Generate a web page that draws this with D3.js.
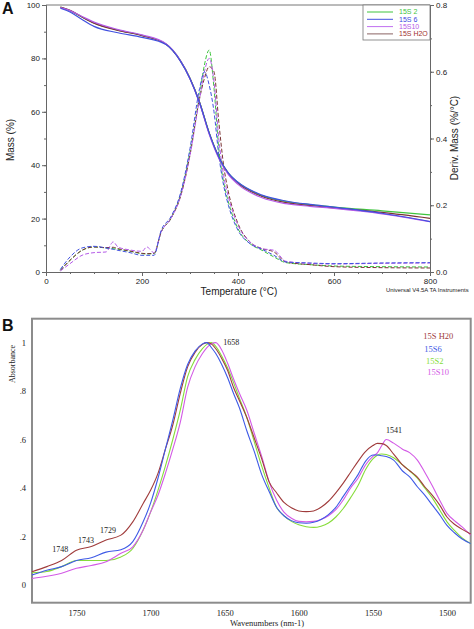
<!DOCTYPE html>
<html><head><meta charset="utf-8">
<script src="https://cdn.jsdelivr.net/npm/d3@7"></script>
<style>body{margin:0;background:#fff}svg{display:block}</style>
</head><body>
<script>
// ---------- Panel A data (TGA / DTG) ----------
const seriesA = ["15S 2", "15S 6", "15S10", "15S H2O"];
const tempTGA = [30,50,75,100,150,200,250,280,300,320,340,360,380,400,450,500,550,600,700,800];
const mass15S2  = [99.2,97.9,95.5,93.3,90.6,88.6,85.4,79.2,72.6,63.6,52.2,43.2,37.0,33.5,28.6,26.4,25.2,24.3,22.9,21.4];
const mass15S6  = [98.8,97.4,94.6,92.0,89.6,87.9,85.2,79.0,72.4,63.4,52.0,43.0,37.0,33.6,28.8,26.6,25.3,24.3,22.0,18.9];
const mass15S10 = [99.0,97.9,95.7,93.6,90.8,88.8,85.5,79.2,72.4,63.2,51.6,42.6,36.5,32.8,27.8,25.6,24.6,23.8,21.8,18.9];
const mass15SH2O= [99.2,98.0,95.5,93.2,90.5,88.5,85.3,79.1,72.5,63.5,52.0,43.0,36.8,33.2,28.3,26.0,24.9,24.0,22.3,20.1];

const tempDTG = [30,50,75,100,125,140,150,175,200,210,225,240,260,280,300,320,330,340,350,360,370,380,400,425,450,475,500,550,600,700,800];
const deriv15S2  = [0.005,0.035,0.065,0.075,0.072,0.070,0.068,0.062,0.055,0.054,0.055,0.12,0.16,0.23,0.36,0.53,0.62,0.665,0.55,0.37,0.27,0.21,0.13,0.085,0.065,0.045,0.028,0.022,0.018,0.016,0.015];
const deriv15S6  = [0.008,0.045,0.072,0.077,0.072,0.068,0.065,0.058,0.050,0.050,0.050,0.125,0.165,0.235,0.37,0.55,0.60,0.56,0.48,0.35,0.26,0.20,0.125,0.085,0.068,0.05,0.03,0.027,0.025,0.027,0.028];
const deriv15S10 = [0.003,0.025,0.05,0.058,0.060,0.090,0.075,0.066,0.062,0.075,0.058,0.12,0.16,0.225,0.35,0.52,0.60,0.64,0.57,0.40,0.29,0.225,0.14,0.09,0.07,0.065,0.032,0.026,0.024,0.026,0.027];
const deriv15SH2O= [0.005,0.035,0.065,0.075,0.073,0.074,0.070,0.063,0.056,0.055,0.056,0.12,0.16,0.225,0.35,0.52,0.58,0.615,0.60,0.45,0.32,0.24,0.145,0.09,0.07,0.06,0.03,0.022,0.016,0.013,0.012];

const massTicks = [0,20,40,60,80,100];
const tempTicks = [0,200,400,600,800];
const derivTicks = [0,0.2,0.4,0.6,0.8];

// ---------- Panel B data (FTIR) ----------
const seriesB = ["15S H20", "15S6", "15S2", "15S10"];
const wavenumbers = [1780,1770,1760,1750,1740,1730,1720,1712,1705,1700,1695,1690,1685,1680,1675,1670,1665,1662,1659,1656,1652,1648,1644,1640,1635,1630,1625,1620,1615,1610,1605,1600,1595,1590,1585,1580,1575,1570,1565,1560,1555,1550,1547,1544,1541,1536,1530,1525,1520,1515,1510,1505,1500,1495,1490,1484];
const absH20 = [.054,.075,.10,.143,.158,.185,.205,.26,.336,.39,.46,.56,.66,.79,.90,.96,.993,1.0,.995,.975,.935,.885,.815,.76,.69,.605,.52,.425,.38,.34,.318,.305,.302,.305,.32,.345,.38,.42,.465,.51,.55,.575,.584,.583,.575,.54,.495,.47,.445,.405,.37,.33,.28,.25,.23,.21];
const abs15S6 = [.04,.06,.075,.10,.112,.135,.145,.178,.26,.337,.44,.56,.68,.81,.91,.965,.995,1.0,.98,.955,.91,.855,.79,.73,.635,.55,.455,.385,.32,.285,.265,.256,.254,.258,.27,.29,.32,.365,.41,.455,.51,.536,.536,.533,.53,.515,.47,.445,.405,.37,.33,.29,.245,.215,.19,.17];
const abs15S2 = [.05,.055,.075,.10,.10,.10,.115,.15,.226,.30,.39,.49,.60,.72,.86,.93,.975,.993,1.0,.985,.945,.895,.835,.77,.69,.59,.49,.40,.32,.285,.262,.248,.24,.237,.242,.255,.28,.315,.36,.41,.475,.52,.535,.54,.538,.525,.495,.47,.44,.40,.36,.31,.26,.225,.195,.17];
const abs15S10 = [.026,.035,.048,.068,.08,.095,.13,.157,.226,.30,.37,.46,.56,.67,.815,.90,.955,.98,.995,1.0,.97,.915,.85,.79,.72,.625,.53,.425,.35,.30,.275,.262,.26,.262,.27,.285,.31,.35,.40,.44,.495,.53,.545,.575,.60,.585,.56,.545,.515,.465,.41,.35,.295,.265,.24,.205];
const absTicks = [0,0.2,0.4,0.6,0.8,1];
const wnTicks = [1750,1700,1650,1600,1550,1500];
const peakLabels = ["1658","1541","1748","1743","1729"];
const peakPositions = [[1645.5,1.0],[1535.7,0.639],[1761,0.146],[1743.6,0.185],[1728.7,0.226]];

// ---------- Drawing ----------
const W = 474, H = 629;
const svg = d3.select("body").append("svg").attr("width", W).attr("height", H);
const sans = "'Liberation Sans', Arial, sans-serif";
const serif = "'Liberation Serif', 'Times New Roman', serif";

const colA = {"15S 2":"#3ec43e","15S 6":"#4050e0","15S10":"#b45ae8","15S H2O":"#7a3434"};
const txtA = {"15S 2":"#3ec43e","15S 6":"#3c48e0","15S10":"#b45ae8","15S H2O":"#a03030"};
const legLineA = {"15S 2":"#3ec43e","15S 6":"#4050e0","15S10":"#c070f0","15S H2O":"#8a6464"};

const xA = d3.scaleLinear().domain([0,800]).range([46,430]);
const yA = d3.scaleLinear().domain([0,100]).range([272,5]);
const yA2 = d3.scaleLinear().domain([0,0.8]).range([272,5]);

const gA = svg.append("g");
gA.append("line").attr("x1",46).attr("x2",430).attr("y1",5).attr("y2",5).attr("stroke","#777").attr("stroke-width",1);

function styleAxis(g, fs, font){
  g.selectAll("path").attr("stroke","#666");
  g.selectAll("line").attr("stroke","#666");
  g.selectAll("text").attr("font-size",fs).attr("font-family",font).attr("fill","#222");
}
gA.append("g").attr("transform","translate(0,272)").call(d3.axisBottom(xA).tickValues(d3.range(0,801,50)).tickSize(2).tickFormat("")).call(g=>styleAxis(g,8,sans));
gA.append("g").attr("transform","translate(46,0)").call(d3.axisLeft(yA).tickValues(d3.range(0,101,10)).tickSize(2).tickFormat("")).call(g=>styleAxis(g,8,sans));
gA.append("g").attr("transform","translate(430,0)").call(d3.axisRight(yA2).tickValues(d3.range(0,0.81,0.1)).tickSize(2).tickFormat("")).call(g=>styleAxis(g,8,sans));
gA.append("g").attr("transform","translate(0,272)").call(d3.axisBottom(xA).tickValues(tempTicks).tickSize(4).tickPadding(2)).call(g=>styleAxis(g,8,sans));
gA.append("g").attr("transform","translate(46,0)").call(d3.axisLeft(yA).tickValues(massTicks).tickSize(4).tickPadding(2)).call(g=>styleAxis(g,8,sans));
gA.append("g").attr("transform","translate(430,0)").call(d3.axisRight(yA2).tickValues(derivTicks).tickSize(4).tickPadding(2).tickFormat(d3.format(".1f"))).call(g=>styleAxis(g,8,sans));

const massData = [mass15S2, mass15S6, mass15S10, mass15SH2O];
const derivData = [deriv15S2, deriv15S6, deriv15S10, deriv15SH2O];
const lineMass = d3.line().x((d,i)=>xA(tempTGA[i])).y(d=>yA(d)).curve(d3.curveMonotoneX);
const lineDeriv = d3.line().x((d,i)=>xA(tempDTG[i])).y(d=>yA2(d)).curve(d3.curveMonotoneX);
const drawOrder = [0,3,2,1];
drawOrder.forEach(k=>{
  gA.append("path").attr("d", lineDeriv(derivData[k])).attr("fill","none")
    .attr("stroke", colA[seriesA[k]]).attr("stroke-width",1).attr("stroke-dasharray","4,2");
});
drawOrder.forEach(k=>{
  gA.append("path").attr("d", lineMass(massData[k])).attr("fill","none")
    .attr("stroke", colA[seriesA[k]]).attr("stroke-width",1.2);
});

const legA = gA.append("g");
legA.append("rect").attr("x",363).attr("y",5).attr("width",67).attr("height",35).attr("fill","#fff").attr("stroke","#777").attr("stroke-width",0.8);
seriesA.forEach((s,i)=>{
  const yy = 12 + i*7.3;
  legA.append("line").attr("x1",367).attr("x2",393).attr("y1",yy).attr("y2",yy).attr("stroke",legLineA[s]).attr("stroke-width",1);
  legA.append("text").attr("x",399).attr("y",yy).attr("dy","0.35em").attr("font-size",7).attr("font-family",sans).attr("fill",txtA[s]).text(s);
});

gA.append("text").attr("transform","translate(14,140) rotate(-90)").attr("text-anchor","middle").attr("font-size",10).attr("font-family",sans).attr("fill","#222").text("Mass (%)");
gA.append("text").attr("transform","translate(458,138) rotate(-90)").attr("text-anchor","middle").attr("font-size",10).attr("font-family",sans).attr("fill","#222").text("Deriv. Mass (%/°C)");
gA.append("text").attr("x",239).attr("y",295).attr("text-anchor","middle").attr("font-size",10).attr("font-family",sans).attr("fill","#222").text("Temperature (°C)");
gA.append("text").attr("x",386).attr("y",292).attr("font-size",5.9).attr("font-family",sans).attr("fill","#222").text("Universal V4.5A TA Instruments");
svg.append("text").attr("x",2).attr("y",14).attr("font-size",16).attr("font-weight","bold").attr("font-family",sans).attr("fill","#111").text("A");

// ---------- Panel B ----------
const xB = d3.scaleLinear().domain([1780,1484]).range([32,470.7]);
const yB = d3.scaleLinear().domain([-0.074,1.099]).range([602.7,318.7]);
const gB = svg.append("g");
gB.append("rect").attr("x",32).attr("y",318.7).attr("width",438.7).attr("height",284).attr("fill","none").attr("stroke","#8c8c8c").attr("stroke-width",2);

const colB = {"15S H20":"#a03c3c","15S6":"#3e5ae6","15S2":"#86dc3a","15S10":"#d35ae6"};
const absData = [absH20, abs15S6, abs15S2, abs15S10];
const lineB = d3.line().x((d,i)=>xB(wavenumbers[i])).y(d=>yB(d)).curve(d3.curveMonotoneX);
[2,3,0,1].forEach(k=>{
  gB.append("path").attr("d", lineB(absData[k])).attr("fill","none").attr("stroke", colB[seriesB[k]]).attr("stroke-width",1.1);
});

const fmtAbs = d => d===0 ? "0" : d===1 ? "1" : d3.format(".1f")(d).replace("0.",".");
gB.append("g").attr("transform","translate(32,0)").call(d3.axisLeft(yB).tickValues(absTicks).tickSize(0).tickPadding(6).tickFormat(fmtAbs))
  .call(g=>{g.select(".domain").remove(); styleAxis(g,8.5,serif);});
gB.append("g").attr("transform","translate(0,602.7)").call(d3.axisBottom(xB).tickValues(wnTicks).tickSize(0).tickPadding(7).tickFormat(d3.format("d")))
  .call(g=>{g.select(".domain").remove(); styleAxis(g,8.5,serif);});

gB.append("text").attr("transform","translate(15,364) rotate(-90)").attr("text-anchor","middle").attr("font-size",8).attr("font-family",serif).attr("fill","#222").text("Absorbance");
gB.append("text").attr("x",267).attr("y",626).attr("text-anchor","middle").attr("font-size",8.5).attr("font-family",serif).attr("fill","#222").text("Wavenumbers (nm-1)");

peakLabels.forEach((t,i)=>{
  gB.append("text").attr("x",xB(peakPositions[i][0])).attr("y",yB(peakPositions[i][1])).attr("dy","0.35em")
    .attr("text-anchor","middle").attr("font-size",8).attr("font-family",serif).attr("fill","#222").text(t);
});

const legBx = [423.3,424.3,426,427.3];
const legBy = [336,349.3,360.7,372];
seriesB.forEach((s,i)=>{
  gB.append("text").attr("x",legBx[i]).attr("y",legBy[i]).attr("dy","0.35em").attr("font-size",8.5).attr("font-family",serif).attr("fill",colB[s]).text(s);
});
svg.append("text").attr("x",2).attr("y",331).attr("font-size",16).attr("font-weight","bold").attr("font-family",sans).attr("fill","#111").text("B");
</script>
</body></html>
